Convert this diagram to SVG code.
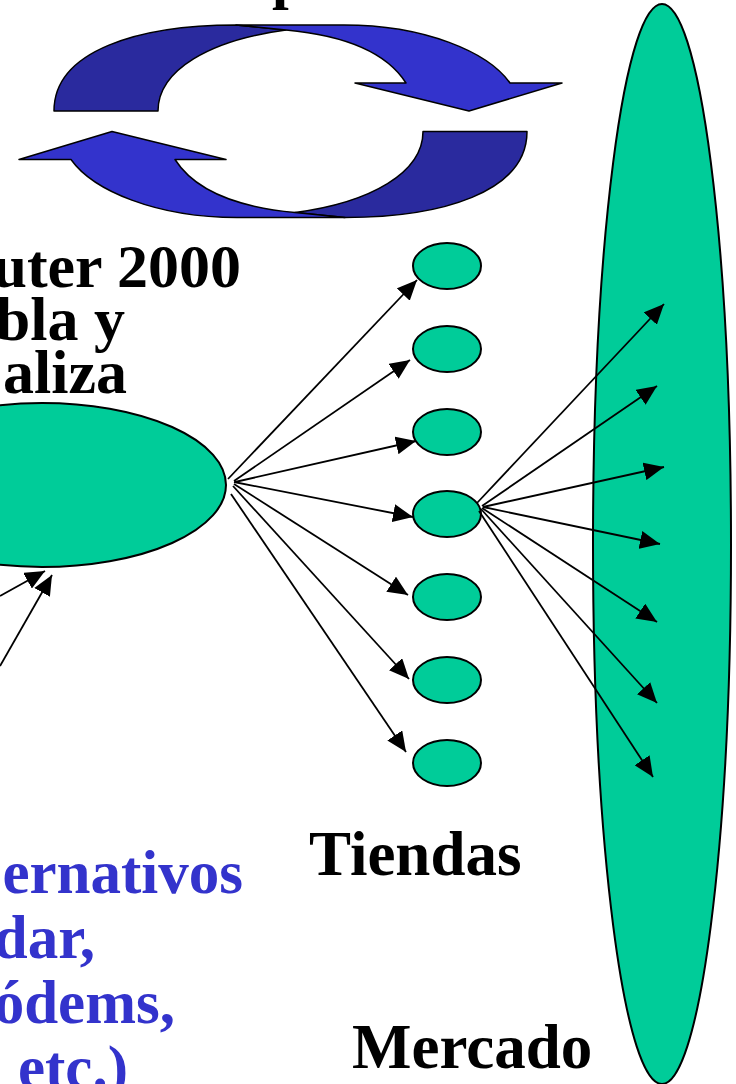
<svg xmlns="http://www.w3.org/2000/svg" width="736" height="1084" viewBox="0 0 736 1084">
<style>
.node{fill:#00CC99;stroke:#000;stroke-width:2}
.dark{fill:#2A2A9E;stroke:#000;stroke-width:1.5;stroke-linejoin:round}
.bright{fill:#3333CC;stroke:#000;stroke-width:1.5;stroke-linejoin:round}
.conn line{stroke:#000;stroke-width:1.8;marker-end:url(#ah)}
.t{font-family:"Liberation Serif","Times New Roman",serif;font-weight:bold}
.blk{fill:#000}
.blu{fill:#3333CC}
</style>
<defs>
<marker id="ah" viewBox="0 0 20 18" markerWidth="20" markerHeight="18" refX="20" refY="9" orient="auto" markerUnits="userSpaceOnUse">
<path d="M0,0 L20,9 L0,18 Z" fill="#000"/>
</marker>
<g id="cyc">
<path class="dark" d="M54,111 C54,50 140,25 236,25 L286,30 C210,40 158,70 158,111 Z"/>
<path class="bright" d="M236,25 L344,25 C425,25 488,52 510,83 L562,83 L469,111 L355,83 L406,83 C385,50 340,35 286,30 Z"/>
</g>
</defs>
<g id="cycle-arrows">
<use href="#cyc"/>
<use href="#cyc" transform="rotate(180 290.5 121.25)"/>
</g>
<text class="t blk" x="272" y="-3" font-size="60">p</text>
<g id="ensambladora">
<ellipse class="node" cx="42" cy="485" rx="184" ry="82"/>
</g>
<g id="mercado">
<ellipse class="node" cx="662" cy="544" rx="69" ry="540"/>
</g>
<g id="tienda1"><ellipse class="node" cx="447" cy="266" rx="34" ry="23"/></g>
<g id="tienda2"><ellipse class="node" cx="447" cy="349" rx="34" ry="23"/></g>
<g id="tienda3"><ellipse class="node" cx="447" cy="432" rx="34" ry="23"/></g>
<g id="tienda4"><ellipse class="node" cx="447" cy="514" rx="34" ry="23"/></g>
<g id="tienda5"><ellipse class="node" cx="447" cy="597" rx="34" ry="23"/></g>
<g id="tienda6"><ellipse class="node" cx="447" cy="680" rx="34" ry="23"/></g>
<g id="tienda7"><ellipse class="node" cx="447" cy="763" rx="34" ry="23"/></g>
<g id="connectors" class="conn">
<line x1="228" y1="479" x2="417" y2="280"/>
<line x1="234" y1="481" x2="410" y2="360"/>
<line x1="235" y1="482" x2="416" y2="441"/>
<line x1="234" y1="482" x2="413" y2="517"/>
<line x1="234" y1="484" x2="408" y2="595"/>
<line x1="233" y1="486" x2="409" y2="679"/>
<line x1="231" y1="494" x2="406" y2="752"/>
<line x1="477" y1="503" x2="664" y2="304"/>
<line x1="482" y1="506" x2="657" y2="386"/>
<line x1="483" y1="507" x2="664" y2="467"/>
<line x1="483" y1="507" x2="660" y2="544"/>
<line x1="482" y1="508" x2="657" y2="622"/>
<line x1="481" y1="509" x2="657" y2="703"/>
<line x1="479" y1="511" x2="653" y2="777"/>
<line x1="0" y1="596" x2="45" y2="571"/>
<line x1="0" y1="666" x2="52" y2="575"/>
</g>
<g id="labels">
<text class="t blk" font-size="62" text-anchor="end" x="241" y="287">uter 2000</text>
<text class="t blk" font-size="62" text-anchor="end" x="125" y="340">bla y</text>
<text class="t blk" font-size="62" text-anchor="end" x="127" y="393">aliza</text>
<text class="t blk" font-size="63" x="309" y="875">Tiendas</text>
<text class="t blk" font-size="63" x="352" y="1068">Mercado</text>
<text class="t blu" font-size="61" text-anchor="end" x="243" y="893">ernativos</text>
<text class="t blu" font-size="61" text-anchor="end" x="95" y="958">dar,</text>
<text class="t blu" font-size="61" text-anchor="end" x="175" y="1023">ódems,</text>
<text class="t blu" font-size="61" text-anchor="end" x="128" y="1088">etc.)</text>
</g>
</svg>
